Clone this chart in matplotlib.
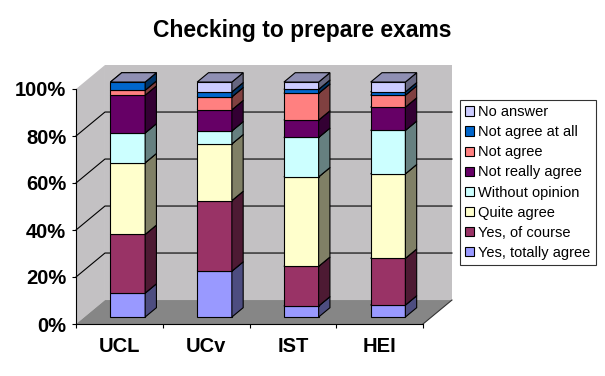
import matplotlib
matplotlib.use("Agg")
import matplotlib.pyplot as plt
from matplotlib.patches import Patch
from matplotlib.colors import to_rgb

plt.rcParams["font.family"] = ["Liberation Sans", "DejaVu Sans"]

sites = ["UCL", "UCv", "IST", "HEI"]
answers = ["Yes, totally agree", "Yes, of course", "Quite agree", "Without opinion",
           "Not really agree", "Not agree", "Not agree at all", "No answer"]
colors = ["#9999FF", "#993366", "#FFFFCC", "#CCFFFF",
          "#660066", "#FF8080", "#0066CC", "#CCCCFF"]

# share of answers (%) per site, stacked bottom -> top in the order of `answers`
ucl = [10.2, 25.0, 30.5, 12.7, 16.1, 2.1, 3.5, 0.0]
ucv = [19.5, 30.0, 24.1, 5.5, 9.0, 5.5, 2.1, 4.2]
ist = [4.7, 16.9, 38.1, 16.8, 7.4, 11.4, 1.7, 3.1]
hei = [5.1, 19.9, 36.0, 18.5, 9.9, 5.1, 1.4, 4.2]
values = [ucl, ucv, ist, hei]

W, H = 605, 376
fig = plt.figure(figsize=(W / 100, H / 100), dpi=100)
ax = fig.add_axes([76 / W, (H - 324) / H, 347 / W, 235 / H])
ax.set_xlim(0, len(sites))
ax.set_ylim(0, 100)
ax.patch.set_visible(False)
for s in ("top", "right"):
    ax.spines[s].set_visible(False)

# fake 3d: depth of the floor, bar position and bar depth (data units)
DX, DY = 0.334, 10.2
F0, FD = 0.29, 0.39
BW = 0.40

wall = "#c3c1c3"
floor = "#868686"
n = len(sites)
ax.fill([DX, n + DX, n + DX, DX], [DY, DY, 100 + DY, 100 + DY], color=wall, lw=0, clip_on=False, zorder=0)
ax.fill([0, DX, DX, 0], [0, DY, 100 + DY, 100], color=wall, lw=0, clip_on=False, zorder=0)
for v in range(20, 100, 20):
    ax.plot([0, DX, n + DX], [v, v + DY, v + DY], color="black", lw=0.8, clip_on=False, zorder=1)
ax.fill([0, n, n + DX, DX], [0, 0, DY, DY], color=floor, lw=0, clip_on=False, zorder=1)
ax.plot([n, n + DX], [0, DY], color="#333333", lw=0.8, clip_on=False, zorder=1)


def shade(c, k):
    r, g, b = to_rgb(c)
    return (r * k, g * k, b * k)


ox, oy = F0 * DX, F0 * DY
bx, by = FD * DX, FD * DY
for i, vals in enumerate(values):
    tot = sum(vals)
    x0 = i + 0.5 - BW / 2 + ox
    x1 = x0 + BW
    bottom = oy
    for v, c in zip(vals, colors):
        h = v * 100 / tot
        y0, y1 = bottom, bottom + h
        kw = dict(ec="black", lw=0.8, clip_on=False, zorder=3)
        if h > 0:
            ax.fill([x0, x1, x1, x0], [y0, y0, y1, y1], fc=c, **kw)
            ax.fill([x1, x1 + bx, x1 + bx, x1], [y0, y0 + by, y1 + by, y1], fc=shade(c, 0.5), **kw)
        ax.fill([x0, x1, x1 + bx, x0 + bx], [y1, y1, y1 + by, y1 + by], fc=shade(c, 0.7), **kw)
        bottom = y1

ax.set_yticks(range(0, 101, 20))
ax.set_yticklabels([f"{v}%" for v in range(0, 101, 20)], fontsize=14.5, fontweight="bold")
ax.tick_params(axis="y", length=3, width=0.8, pad=4)
ax.set_xticks([i + 0.5 for i in range(n)])
ax.set_xticklabels(sites, fontsize=14.5, fontweight="bold")
ax.set_xticks(range(n + 1), minor=True)
ax.tick_params(axis="x", which="major", length=0, pad=9)
ax.tick_params(axis="x", which="minor", length=3, width=0.8)
ax.spines["left"].set_linewidth(0.8)
ax.spines["bottom"].set_linewidth(0.8)

fig.text(302 / W, 1 - 30 / H, "Checking to prepare exams", ha="center", va="center",
         fontsize=16.5, fontweight="bold")

handles = [Patch(fc=c, ec="black", lw=0.8, label=a) for a, c in zip(answers, colors)][::-1]
leg = fig.legend(handles=handles, loc="upper left", bbox_to_anchor=(460 / W, 1 - 100 / H),
                 borderaxespad=0, fontsize=10.5, frameon=True, fancybox=False,
                 handlelength=0.6, handleheight=0.6, handletextpad=0.3,
                 labelspacing=0.42, borderpad=0.35)
leg.get_frame().set_edgecolor("black")
leg.get_frame().set_linewidth(0.8)

fig.savefig("out.png", dpi=100)
